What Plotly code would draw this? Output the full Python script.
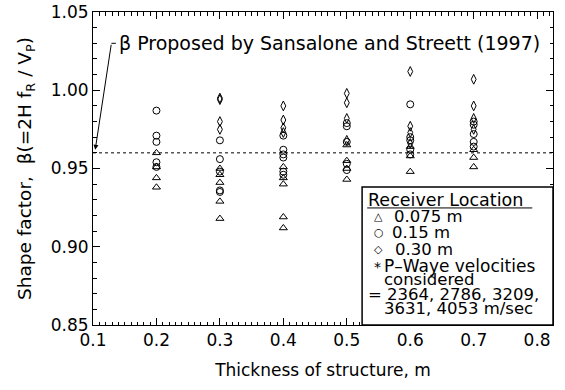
import plotly.graph_objects as go

# ---- data ----
tri_x = [0.2, 0.2, 0.2, 0.2,
         0.3, 0.3, 0.3, 0.3, 0.3,
         0.4, 0.4, 0.4, 0.4, 0.4,
         0.5, 0.5, 0.5, 0.5,
         0.6, 0.6, 0.6,
         0.7, 0.7, 0.7]
tri_y = [0.960, 0.951, 0.944, 0.938,
         0.950, 0.946, 0.941, 0.929, 0.918,
         0.951, 0.944, 0.940, 0.919, 0.912,
         0.965, 0.955, 0.950, 0.943,
         0.964, 0.958, 0.948,
         0.962, 0.957, 0.951]

circ_x = [0.2, 0.2, 0.2, 0.2, 0.2,
          0.3, 0.3, 0.3, 0.3, 0.3,
          0.4, 0.4, 0.4, 0.4, 0.4, 0.4,
          0.5, 0.5, 0.5, 0.5, 0.5,
          0.6, 0.6, 0.6, 0.6, 0.6,
          0.7, 0.7, 0.7, 0.7, 0.7]
circ_y = [0.987, 0.971, 0.967, 0.954, 0.951,
          0.968, 0.956, 0.948, 0.936, 0.935,
          0.971, 0.962, 0.959, 0.957, 0.948, 0.946,
          0.979, 0.977, 0.967, 0.953, 0.949,
          0.991, 0.970, 0.968, 0.962, 0.959,
          0.980, 0.978, 0.972, 0.967, 0.964]

dia_x = [0.3, 0.3, 0.3, 0.3,
         0.4, 0.4, 0.4, 0.4,
         0.5, 0.5, 0.5, 0.5,
         0.6, 0.6, 0.6, 0.6,
         0.7, 0.7, 0.7, 0.7]
dia_y = [0.995, 0.994, 0.980, 0.975,
         0.990, 0.981, 0.976, 0.973,
         0.998, 0.992, 0.982, 0.968,
         1.012, 0.977, 0.973, 0.966,
         1.007, 0.990, 0.982, 0.975]

beta_proposed = 0.96
x_range = [0.1, 0.825]
y_range = [0.85, 1.05]
x_ticks = [0.1, 0.2, 0.3, 0.4, 0.5, 0.6, 0.7, 0.8]

legend_title = "Receiver Location"
legend_items = ["0.075 m", "0.15 m", "0.30 m"]
legend_note = ["P\u2013Waye velocities", "considered",
               "= 2364, 2786, 3209,", "3631, 4053 m/sec"]

FONT = "DejaVu Sans"
fig = go.Figure()

mk = dict(color="black", size=7, line=dict(color="black", width=1))
fig.add_trace(go.Scatter(x=tri_x, y=tri_y, mode="markers",
                         marker=dict(symbol="triangle-up-open", **mk)))
fig.add_trace(go.Scatter(x=circ_x, y=circ_y, mode="markers",
                         marker=dict(symbol="circle-open", **mk)))
fig.add_trace(go.Scatter(x=dia_x, y=dia_y, mode="markers",
                         marker=dict(symbol="diamond-tall-open", **mk)))

# dotted proposed line
fig.add_shape(type="line", xref="paper", yref="y", x0=0, x1=1,
              y0=beta_proposed, y1=beta_proposed,
              line=dict(color="black", width=1, dash="dot"))

# annotation arrow + text
fig.add_annotation(x=0.1035, y=0.962, ax=0.129, ay=1.030, axref="x", ayref="y",
                   xref="x", yref="y", text="", showarrow=True,
                   arrowhead=2, arrowsize=1, arrowwidth=1, arrowcolor="black")
fig.add_shape(type="line", xref="x", yref="y", x0=0.129, x1=0.136,
              y0=1.030, y1=1.030, line=dict(color="black", width=1))
fig.add_annotation(x=0.138, y=1.030, xref="x", yref="y", xanchor="left",
                   yanchor="middle", showarrow=False,
                   text="\u03b2 Proposed by Sansalone and Streett (1997)",
                   font=dict(family=FONT, size=19, color="black"))

# legend box
lx0 = 0.585
fig.add_shape(type="rect", xref="paper", yref="paper", x0=lx0, x1=1,
              y0=0, y1=0.441, line=dict(color="black", width=1.5),
              fillcolor="white", layer="above")
fig.add_shape(type="line", xref="paper", yref="paper", x0=0.596, x1=0.955,
              y0=0.374, y1=0.374, line=dict(color="black", width=1))

def txt(x, y, s, size=16.5):
    fig.add_annotation(x=x, y=y, xref="paper", yref="paper", xanchor="left",
                       yanchor="middle", showarrow=False, text=s,
                       font=dict(family=FONT, size=size, color="black"))

txt(0.594, 0.399, legend_title, size=17.5)
syms = ["\u25b3", "\u25cb", "\u25c7"]
ys = [0.347, 0.296, 0.241]
xs = [0.650, 0.646, 0.652]
for s, yy, xx, lab in zip(syms, ys, xs, legend_items):
    txt(0.606, yy, s, size=11)
    txt(xx, yy, lab)
txt(0.606, 0.186, "*", size=14)
txt(0.628, 0.190, legend_note[0], size=17)
txt(0.628, 0.146, legend_note[1])
txt(0.594, 0.098, legend_note[2])
txt(0.628, 0.052, legend_note[3])

axis_common = dict(showline=True, linecolor="black", linewidth=1, mirror="ticks",
                   ticks="inside", ticklen=7, tickwidth=1, tickcolor="black",
                   showgrid=False, zeroline=False,
                   tickfont=dict(family=FONT, size=17, color="black"))

fig.update_xaxes(range=x_range, tickvals=x_ticks, tickformat=".1f",
                 minor=dict(dtick=0.01, tick0=0.1, ticks="inside", ticklen=3.5,
                            tickcolor="black", showgrid=False),
                 title=dict(text="Thickness of structure, m", standoff=14,
                            font=dict(family=FONT, size=17, color="black")),
                 **axis_common)
fig.update_yaxes(range=y_range, dtick=0.05, tick0=0.85, tickformat=".2f",
                 minor=dict(dtick=0.01, ticks="inside", ticklen=3.5,
                            tickcolor="black", showgrid=False),
                 title=dict(text="Shape factor,  \u03b2(=2H f<sub>R</sub> / V<sub>P</sub>)",
                            standoff=14,
                            font=dict(family=FONT, size=18.5, color="black")),
                 **axis_common)

fig.update_layout(width=565, height=390, showlegend=False,
                  margin=dict(l=93, r=12, t=12, b=65, autoexpand=False),
                  plot_bgcolor="white", paper_bgcolor="white")

fig.write_html("out.html")
